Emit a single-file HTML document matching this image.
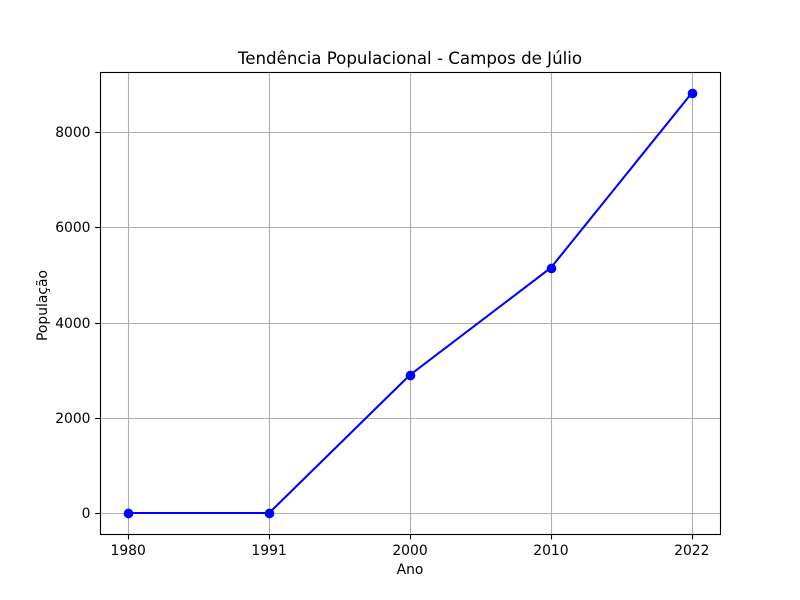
<!DOCTYPE html>
<html lang="pt">
<head>
<meta charset="utf-8">
<title>Tendência Populacional - Campos de Júlio</title>
<style>
html,body{margin:0;padding:0;background:#fff;width:800px;height:600px;overflow:hidden}
svg{display:block}
text{font-family:"DejaVu Sans",sans-serif;fill:#000}
</style>
</head>
<body>
<svg id="chart" width="800" height="600" viewBox="0 0 800 600" xmlns="http://www.w3.org/2000/svg">
<rect width="800" height="600" fill="#fff"/>
<g id="grid"></g>
<g id="ticks"></g>
<g id="series"></g>
<rect x="100.5" y="72.5" width="620" height="462" fill="none" stroke="#000" stroke-width="1.11"/>
<text x="410" y="64" font-size="16.67" text-anchor="middle">Tendência Populacional - Campos de Júlio</text>
<text x="410" y="574" font-size="13.89" text-anchor="middle">Ano</text>
<text x="0" y="0" font-size="13.89" text-anchor="middle" transform="translate(47 305.5) rotate(-90)">População</text>
</svg>
<script>
const categories = ['1980', '1991', '2000', '2010', '2022'];
const populationValues = [0, 0, 2900, 5150, 8820];
const yTickValues = [0, 2000, 4000, 6000, 8000];

const plotLeft = 100, plotRight = 720, plotTop = 72, plotBottom = 534;
const NS = 'http://www.w3.org/2000/svg';

function xScale(i) {
  const span = Math.max(categories.length - 1, 1);
  const margin = span * 0.05;
  return plotLeft + (i + margin) / (span + 2 * margin) * (plotRight - plotLeft);
}
function yScale(v) {
  const lo = Math.min(...populationValues), hi = Math.max(...populationValues);
  const margin = (hi - lo) * 0.05;
  return plotBottom - (v - lo + margin) / (hi - lo + 2 * margin) * (plotBottom - plotTop);
}
function snap(p) {
  return Math.floor(p + 0.5) + 0.5;
}
function make(tag, attrs, parent) {
  const el = document.createElementNS(NS, tag);
  for (const k in attrs) el.setAttribute(k, attrs[k]);
  parent.appendChild(el);
  return el;
}

const gridG = document.getElementById('grid');
const ticksG = document.getElementById('ticks');
const seriesG = document.getElementById('series');

categories.forEach(function (label, i) {
  const x = snap(xScale(i));
  const g = make('line', {x1: x, x2: x, y1: plotTop, y2: plotBottom, stroke: '#b0b0b0', 'stroke-width': 1.11}, gridG);
  
  
  const t = make('line', {x1: x, x2: x, y1: plotBottom, y2: plotBottom + 5.4, stroke: '#000', 'stroke-width': 1.11}, ticksG);
  
  
  const l = make('text', {x: xScale(i), y: 555, 'font-size': 13.89, 'text-anchor': 'middle'}, ticksG);
  
  
  l.textContent = label;
});

yTickValues.forEach(function (v) {
  const y = snap(yScale(v));
  const g = make('line', {x1: plotLeft, x2: plotRight, y1: y, y2: y, stroke: '#b0b0b0', 'stroke-width': 1.11}, gridG);
  
  
  const t = make('line', {x1: plotLeft - 4.86, x2: plotLeft, y1: y, y2: y, stroke: '#000', 'stroke-width': 1.11}, ticksG);
  
  
  const l = make('text', {x: 90.5, y: Math.round(yScale(v)) + 5, 'font-size': 13.89, 'text-anchor': 'end'}, ticksG);
  
  
  l.textContent = String(v);
});

const linePoints = populationValues.map(function (v, i) {
  return xScale(i) + ',' + yScale(v);
}).join(' ');
const poly = make('polyline', {points: linePoints, fill: 'none', stroke: '#0000ff', 'stroke-width': 2.08, 'stroke-linejoin': 'round'}, seriesG);



populationValues.forEach(function (v, i) {
  const c = make('circle', {cx: snap(xScale(i)), cy: snap(yScale(v)), r: 4.86, fill: '#0000ff'}, seriesG);
  
  
});
</script>
</body>
</html>
